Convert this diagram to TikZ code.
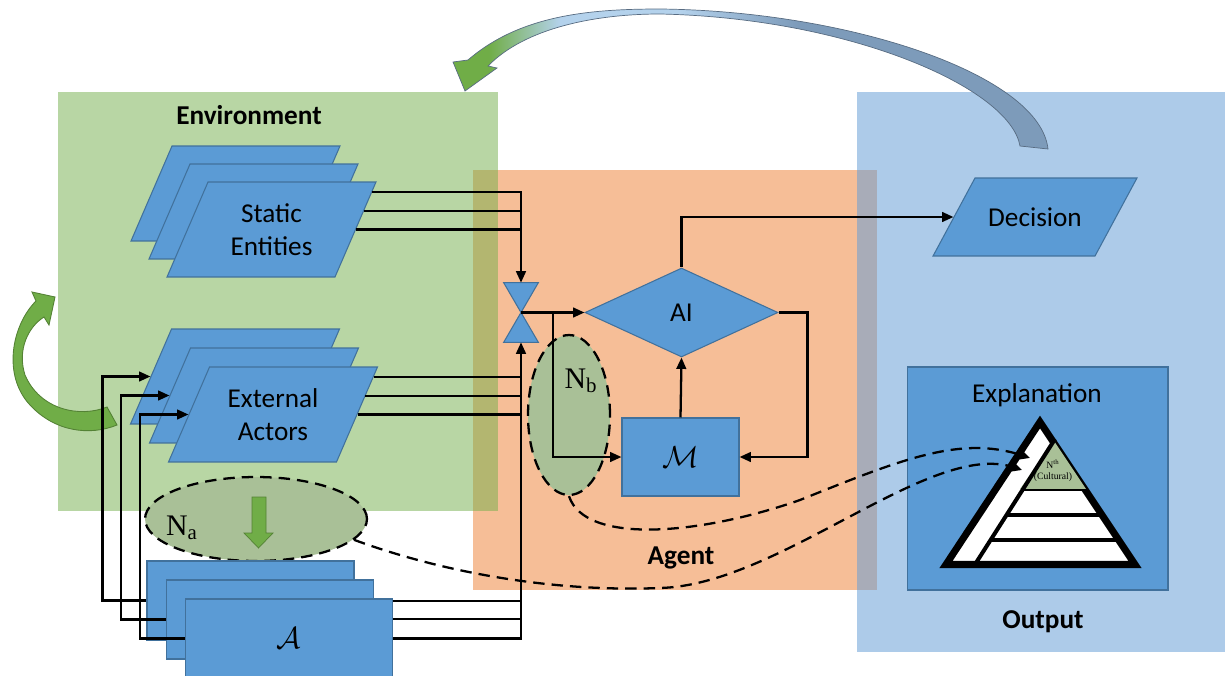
\documentclass[tikz,border=0pt]{standalone}
\usepackage{fontspec}
\setmainfont{Carlito}
\newfontfamily\tnr{Liberation Serif}
\usetikzlibrary{shapes.geometric,arrows.meta,calc}

\definecolor{envgreen}{RGB}{184,214,164}
\definecolor{agentorange}{RGB}{246,190,151}
\definecolor{outblue}{RGB}{173,203,233}
\definecolor{envolive}{RGB}{179,182,112}
\definecolor{outgrey}{RGB}{168,172,184}
\definecolor{boxblue}{RGB}{91,155,213}
\definecolor{boxedge}{RGB}{65,113,156}
\definecolor{noisegreen}{RGB}{169,192,151}
\definecolor{arrgreen}{RGB}{112,173,71}
\definecolor{arredge}{RGB}{84,130,53}
\definecolor{fadeblue}{RGB}{180,210,236}
\definecolor{steelblue}{RGB}{125,155,186}

\pgfdeclarehorizontalshading{feedback}{100bp}{color(0bp)=(arrgreen); color(25bp)=(arrgreen); color(28bp)=(arrgreen); color(34bp)=(fadeblue); color(44bp)=(fadeblue); color(54bp)=(steelblue); color(100bp)=(steelblue)}

\tikzset{
  conn/.style={line width=1.3pt},
  arr/.style={conn, -{Triangle[length=6.5pt,width=5.5pt]}},
  nlink/.style={line width=1.3pt, dash pattern=on 6.5pt off 4pt, -{Triangle[length=5.5pt,width=5pt]}},
  blk/.style={fill=boxblue, draw=boxedge, line width=0.6pt},
  para/.style={blk, rectangle, xslant=0.4316, minimum width=3.36cm, minimum height=1.9cm, inner sep=0pt},
  rbox/.style={blk, rectangle, minimum width=4.14cm, minimum height=1.58cm, inner sep=0pt},
  noise/.style={ellipse, fill=noisegreen, draw=black, line width=1.3pt, dash pattern=on 6.5pt off 4pt, inner sep=0pt},
  region/.style={font=\fontsize{15.5}{19}\selectfont\bfseries},
  ntext/.style={font=\tnr\fontsize{17}{20}\selectfont},
}

\begin{document}
\begin{tikzpicture}[x=0.02cm, y=-0.02cm, font=\fontsize{15.5}{19}\selectfont]
\useasboundingbox (0,0) rectangle (1227,676);

% areas
\fill[envgreen] (58,92) rectangle (498,511);
\fill[outblue] (857,92) rectangle (1225,652);
\fill[agentorange] (473,170) rectangle (877,590);
\fill[envolive] (473,170) rectangle (498,511);
\fill[outgrey] (857,170) rectangle (877,590);

\node[region] (envlbl) at (249,115) {Environment};
\node[region] (agentlbl) at (681,558) {Agent};
\node[region] (outlbl) at (1043,622) {Output};

% feedback arrows
\shade[shading=feedback, draw=steelblue!70!black, line width=0.4pt]
  (468,60) .. controls (520,15) and (590,9) .. (660,9)
  .. controls (850,11) and (1040,75) .. (1048,149)
  -- (1020,146)
  .. controls (1010,88) and (850,18) .. (660,14)
  .. controls (595,14) and (525,28) .. (488,66)
  -- (497,68) -- (465,91) -- (453,62) -- cycle;
\filldraw[fill=arrgreen, draw=arredge, line width=0.5pt]
  (36,301) .. controls (12,325) and (2,375) .. (30,405)
  .. controls (55,432) and (90,436) .. (117,425)
  -- (107,407)
  .. controls (80,418) and (40,410) .. (25,375)
  .. controls (17,350) and (28,327) .. (44,317)
  -- (49,325) -- (55,297) -- (32,292) -- cycle;

% environment
\node[para] (stat1) at (235.5,193.5) {};
\node[para] (stat2) at (253.5,211.5) {};
\node[para] (stat3) at (271.5,229.5) {};
\node[align=center] (stattxt) at (stat3.center) {Static\\Entities};
\node[para] (ext1) at (235,376.5) {};
\node[para] (ext2) at (254,395.5) {};
\node[para] (ext3) at (273,414.5) {};
\node[align=center] (exttxt) at (ext3.center) {External\\Actors};

\node[noise, minimum width=4.44cm, minimum height=1.68cm] (na) at (256,519) {};
\node[ntext] (natxt) at (182,528) {N\textsubscript{a}};
\filldraw[fill=arrgreen, draw=arredge, line width=0.4pt] (252,497) -- (266,497) -- (266,533) -- (273,533) -- (258.5,548) -- (244,533) -- (252,533) -- cycle;

\node[rbox] (act1) at (250.5,600.5) {};
\node[rbox] (act2) at (270,619.5) {};
\node[rbox, font=\fontsize{17}{20}\selectfont] (act3) at (289,638.5) {$\mathcal{A}$};

% agent
\node[noise, minimum width=1.64cm, minimum height=3.2cm] (nb) at (569,415) {};
\node[ntext] (nbtxt) at (581,381) {N\textsubscript{b}};
\node[minimum width=0.68cm, minimum height=1.18cm, inner sep=0pt] (bow) at (521,312.5) {};
\filldraw[blk] (bow.north west) -- (bow.north east) -- (bow.center) -- cycle;
\filldraw[blk] (bow.south west) -- (bow.south east) -- (bow.center) -- cycle;
\node[blk, diamond, minimum width=3.86cm, minimum height=1.78cm, inner sep=0pt] (ai) at (681.5,312.5) {AI};
\node[blk, minimum width=2.34cm, minimum height=1.56cm, inner sep=0pt, font=\fontsize{17}{20}\selectfont] (mem) at (680.5,457) {$\mathcal{M}$};

% output
\node[blk, rectangle, xslant=0.538, minimum width=3.24cm, minimum height=1.56cm, inner sep=0pt] (dec) at (1035,217) {};
\node (dectxt) at (dec.center) {Decision};
\node[blk, minimum width=5.22cm, minimum height=4.46cm] (expl) at (1037.5,478.5) {};
\node (expltxt) at (1037,395) {Explanation};

\filldraw[fill=white, draw=black, line width=4pt] (1040,422) -- (1135,564.5) -- (946,564.5) -- cycle;
\fill[noisegreen] (1054,441) -- (1086,489) -- (1020,489) -- cycle;
\draw[line width=2.3pt] (974,566) -- (1055,439);
\draw[line width=1.7pt] (1022,490) -- (1086,490);
\draw[line width=2.3pt] (1006,515) -- (1102,515);
\draw[line width=2.3pt] (990,540) -- (1119,540);
\node[font=\tnr\fontsize{5.5}{6.5}\selectfont, align=center] (nth) at (1053,471) {N\textsuperscript{th}\\(Cultural)};
\coordinate (tierA) at (1030,458);
\coordinate (tierB) at (1022,470);

% links
\coordinate (s1) at ($(stat3.north east)!0.11!(stat3.south east)$);
\coordinate (s2) at ($(stat3.north east)!0.31!(stat3.south east)$);
\coordinate (s3) at ($(stat3.north east)!0.5!(stat3.south east)$);
\coordinate (e1) at ($(ext3.north east)!0.11!(ext3.south east)$);
\coordinate (e2) at ($(ext3.north east)!0.31!(ext3.south east)$);
\coordinate (e3) at ($(ext3.north east)!0.5!(ext3.south east)$);
\coordinate (a1) at ($(act3.north east)!0.03!(act3.south east)$);
\coordinate (a2) at ($(act3.north east)!0.26!(act3.south east)$);
\coordinate (a3) at ($(act3.north east)!0.5!(act3.south east)$);

\draw[arr] (s1) -| (bow.north);
\draw[conn] (s2) -- (s2 -| bow.north);
\draw[conn] (s3) -- (s3 -| bow.north);
\draw[arr] (a3) -| (bow.south);
\draw[conn] (a2) -- (a2 -| bow.south);
\draw[conn] (a1) -- (a1 -| bow.south);
\draw[conn] (e1) -- (e1 -| bow.south);
\draw[conn] (e2) -- (e2 -| bow.south);
\draw[conn] (e3) -- (e3 -| bow.south);

\draw[arr] (act1.west) -- ++(-44,0) |- (ext1.west);
\draw[arr] (act2.west) -- ++(-45,0) |- (ext2.west);
\draw[arr] (act3.west) -- ++(-45,0) |- (ext3.west);

\coordinate (split) at ($(bow.center)!0.5!(ai.west)$);
\draw[arr] (bow.center) -- (ai.west);
\draw[arr] (split) |- (mem.west);
\draw[arr] (ai.east) -- ++(29,0) |- (mem.east);
\draw[arr] (mem.north) -- (ai.south);
\draw[arr] (ai.north) |- (dec.west);

\draw[nlink] (nb.south) .. controls (585,545) and (700,535) .. (800,500) .. controls (900,460) and (960,435) .. (tierA);
\draw[nlink] (na.-12) .. controls (450,575) and (560,592) .. (660,588) .. controls (780,585) and (930,440) .. (tierB);
\end{tikzpicture}
\end{document}
